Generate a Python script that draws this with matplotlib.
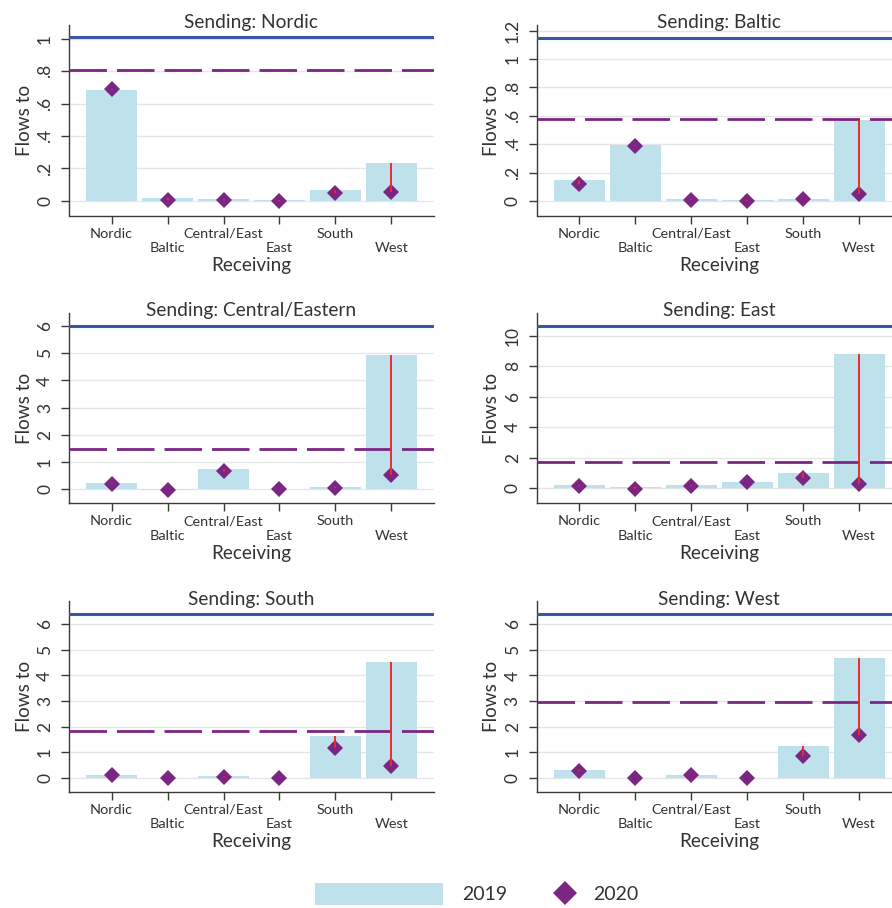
import matplotlib
matplotlib.use("Agg")
import matplotlib.pyplot as plt
from matplotlib.patches import Patch
from matplotlib.lines import Line2D

plt.rcParams['font.family'] = ['Lato', 'DejaVu Sans']

# ---------------- data ----------------
receiving = ["Nordic", "Baltic", "Central/East", "East", "South", "West"]
senders = ["Nordic", "Baltic", "Central/Eastern", "East", "South", "West"]

nordic_2019 = [0.685, 0.015, 0.010, 0.005, 0.070, 0.235]
nordic_2020 = [0.690, 0.003, 0.005, 0.000, 0.050, 0.055]
baltic_2019 = [0.150, 0.395, 0.010, 0.005, 0.015, 0.572]
baltic_2020 = [0.120, 0.384, 0.003, 0.000, 0.012, 0.050]
central_2019 = [0.23, -0.02, 0.75, 0.02, 0.09, 4.92]
central_2020 = [0.18, -0.01, 0.69, 0.00, 0.06, 0.52]
east_2019 = [0.18, 0.05, 0.24, 0.38, 1.03, 8.81]
east_2020 = [0.14, -0.02, 0.13, 0.39, 0.70, 0.28]
south_2019 = [0.14, 0.02, 0.065, 0.02, 1.63, 4.52]
south_2020 = [0.11, -0.01, 0.045, -0.01, 1.17, 0.49]
west_2019 = [0.30, 0.02, 0.14, 0.02, 1.24, 4.67]
west_2020 = [0.27, 0.00, 0.13, 0.01, 0.85, 1.67]

# totals (horizontal reference lines)
total_2019 = [1.01, 1.146, 6.01, 10.63, 6.39, 6.39]
total_2020 = [0.805, 0.579, 1.49, 1.72, 1.835, 2.98]

yticks = [[0, 0.2, 0.4, 0.6, 0.8, 1.0],
          [0, 0.2, 0.4, 0.6, 0.8, 1.0, 1.2],
          [0, 1, 2, 3, 4, 5, 6],
          [0, 2, 4, 6, 8, 10],
          [0, 1, 2, 3, 4, 5, 6],
          [0, 1, 2, 3, 4, 5, 6]]
ytick_labels = [["0", ".2", ".4", ".6", ".8", "1"],
                ["0", ".2", ".4", ".6", ".8", "1", "1.2"],
                ["0", "1", "2", "3", "4", "5", "6"],
                ["0", "2", "4", "6", "8", "10"],
                ["0", "1", "2", "3", "4", "5", "6"],
                ["0", "1", "2", "3", "4", "5", "6"]]
ylims = [(-0.09, 1.084), (-0.103, 1.24), (-0.51, 6.49),
         (-0.98, 11.5), (-0.52, 6.90), (-0.52, 6.90)]

series_2019 = [nordic_2019, baltic_2019, central_2019, east_2019, south_2019, west_2019]
series_2020 = [nordic_2020, baltic_2020, central_2020, east_2020, south_2020, west_2020]

# ---------------- style ----------------
BAR = "#BEE1EC"
BLUE = "#3A56A4"
PURPLE = "#7B2683"
RED = "#EE2B2F"
GRID = "#E6E6E6"
AX = "#3A3A3A"
TXT = "#333333"

W, H = 892, 908
fig = plt.figure(figsize=(W / 100, H / 100), dpi=100)

col_left = [69, 536.7]
row_top = [25, 312.7, 601]
ax_w, ax_h = 365, 190.5

x = list(range(len(receiving)))

for i in range(6):
    r, c = divmod(i, 2)
    left = col_left[c] / W
    bottom = 1 - (row_top[r] + ax_h) / H
    ax = fig.add_axes([left, bottom, ax_w / W, ax_h / H])

    ax.bar(x, series_2019[i], width=0.91, color=BAR, zorder=2, linewidth=0)
    ax.axhline(total_2019[i], color=BLUE, lw=2.2, zorder=3)
    ax.axhline(total_2020[i], color=PURPLE, lw=2.0, zorder=3,
               linestyle=(0, (13.5, 3.6)))
    ax.plot(x, series_2020[i], linestyle='none', marker='D', markersize=8.4,
            color=PURPLE, markeredgewidth=0, zorder=4)
    ax.vlines(x, series_2020[i], series_2019[i], color=RED, lw=1.4, zorder=5)

    ax.set_xlim(-0.76, 5.76)
    ax.set_ylim(*ylims[i])
    ax.set_yticks(yticks[i])
    ax.set_yticklabels(ytick_labels[i], rotation=90, va='center')
    ax.yaxis.grid(True, color=GRID, lw=1.0, zorder=0)
    ax.set_axisbelow(True)

    ax.set_xticks(x)
    ax.set_xticklabels(receiving)
    for k, t in enumerate(ax.xaxis.get_major_ticks()):
        t.set_pad(3.3 if k % 2 == 0 else 13.8)

    for s in ["top", "right"]:
        ax.spines[s].set_visible(False)
    for s in ["left", "bottom"]:
        ax.spines[s].set_color(AX)
        ax.spines[s].set_linewidth(1.0)

    ax.tick_params(axis='x', length=5.5, width=1.0, color=AX,
                   labelsize=10.4, labelcolor=TXT)
    ax.tick_params(axis='y', length=5.5, width=1.0, color=AX,
                   labelsize=12.5, labelcolor=TXT, pad=6)

    ax.set_title(f"Sending: {senders[i]}", fontsize=13.8, color=TXT,
                 y=1 - 3.5 / ax_h, pad=0)
    ax.set_xlabel("Receiving", fontsize=13.6, color=TXT, labelpad=2.3)
    ax.set_ylabel("Flows to", fontsize=13.6, color=TXT, labelpad=3.2)

fs = 14
fs_px = fs * 100 / 72
yc = 1 - 894 / H
leg1 = fig.legend(handles=[Patch(facecolor=BAR, edgecolor='none')], labels=["2019"],
                  loc='center left', bbox_to_anchor=(315 / W, yc), frameon=False,
                  borderpad=0, borderaxespad=0, fontsize=fs,
                  handlelength=128 / fs_px, handleheight=27 / fs_px,
                  handletextpad=19 / fs_px, labelcolor=TXT)
leg2 = fig.legend(handles=[Line2D([], [], linestyle='none', marker='D', markersize=12.2,
                                  color=PURPLE, markeredgewidth=0)],
                  labels=["2020"],
                  loc='center left', bbox_to_anchor=(553 / W, yc), frameon=False,
                  borderpad=0, borderaxespad=0, fontsize=fs,
                  handlelength=24 / fs_px, handletextpad=16 / fs_px, labelcolor=TXT)

fig.savefig("out.png", dpi=100)
